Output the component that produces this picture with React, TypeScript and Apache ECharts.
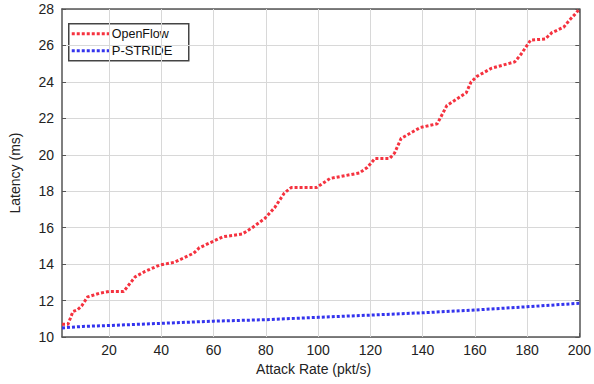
import React, { useEffect, useRef } from "react";
import * as echarts from "echarts";

// Latency vs attack rate, breakpoints of each measured curve [rate, latency]
const openFlowData: [number, number][] = [
  [2, 10.7], [4.3, 10.7], [6.2, 11.4], [8, 11.5], [9.5, 11.7], [11.8, 12.2], [16.3, 12.4],
  [20, 12.5], [25.6, 12.5], [30, 13.3], [33.8, 13.6], [39.4, 13.95], [45, 14.1],
  [52.4, 14.6], [54.6, 14.9], [63.6, 15.5], [71, 15.65], [74.8, 16.0], [79.6, 16.5],
  [83.4, 17.1], [87.1, 17.9], [89.7, 18.2], [99.4, 18.2], [102, 18.45], [104.6, 18.7],
  [115.8, 19.0], [118.8, 19.3], [121.8, 19.8], [127.4, 19.8], [129.3, 20.1],
  [131.8, 20.9], [139.2, 21.5], [145.6, 21.7], [149.3, 22.7], [156.7, 23.4],
  [158.6, 24.0], [160.8, 24.3], [166.4, 24.75], [175.3, 25.1], [177.6, 25.5],
  [181.4, 26.3], [186.9, 26.35], [189.5, 26.7], [194, 27.0], [196.3, 27.4],
  [198.9, 27.8], [200, 28.0],
];
const pStrideData: [number, number][] = [
  [2, 10.5], [10, 10.58], [20, 10.63], [40, 10.75], [60, 10.87], [80, 10.95],
  [100, 11.08], [120, 11.2], [140, 11.33], [160, 11.48], [180, 11.66], [200, 11.85],
];
const seriesNames = ["OpenFlow", "P-STRIDE"];
const xTicks = [20, 40, 60, 80, 100, 120, 140, 160, 180, 200];

const RED = "#f5323f";
const BLUE = "#3434ee";
const FRAME = "#555";
const GRID = "#d8d8d8";
const FONT = "Liberation Sans, Arial, sans-serif";

export default function App() {
  const ref = useRef<HTMLDivElement>(null);

  useEffect(() => {
    if (!ref.current) return;
    const chart = echarts.init(ref.current, undefined, { renderer: "svg" });

    // rate axis starts at 2, so ticks and labels are pinned to the 20-step values
    const baseX = {
      type: "value" as const,
      min: 2,
      max: 200,
      axisLine: { show: true, onZero: false, lineStyle: { color: FRAME, width: 1.5 } },
      axisTick: {
        show: true,
        inside: true,
        length: 4,
        customValues: xTicks,
        lineStyle: { color: FRAME },
      },
      splitLine: { show: false },
    };
    const baseY = {
      type: "value" as const,
      min: 10,
      max: 28,
      interval: 2,
      axisLine: { show: true, onZero: false, lineStyle: { color: FRAME, width: 1.5 } },
      axisTick: { show: true, inside: true, length: 4, lineStyle: { color: FRAME } },
    };

    const dotted = (color: string) => ({
      color,
      width: 3,
      type: [3, 2] as number[],
      cap: "butt" as const,
    });

    chart.setOption({
      animation: false,
      backgroundColor: "#fff",
      grid: { left: 52, top: 9, right: 11, bottom: 47, containLabel: false },
      xAxis: [
        {
          ...baseX,
          position: "bottom",
          name: "Attack Rate (pkt/s)",
          nameLocation: "middle",
          nameGap: 23,
          nameTextStyle: { color: "#222", fontSize: 14, fontFamily: FONT, padding: [0, 14, 0, 0] },
          axisLabel: {
            customValues: xTicks,
            color: "#222",
            fontSize: 14,
            fontFamily: FONT,
            margin: 6,
          },
        },
        {
          ...baseX,
          position: "top",
          axisLabel: { show: false },
        },
      ],
      yAxis: [
        {
          ...baseY,
          position: "left",
          name: "Latency (ms)",
          nameLocation: "middle",
          nameGap: 40,
          nameTextStyle: { color: "#222", fontSize: 14, fontFamily: FONT },
          axisLabel: { color: "#222", fontSize: 14, fontFamily: FONT, margin: 8 },
          splitLine: { show: true, lineStyle: { color: GRID, width: 1 } },
        },
        {
          ...baseY,
          position: "right",
          axisLabel: { show: false },
          splitLine: { show: false },
        },
      ],
      series: [
        {
          name: seriesNames[0],
          type: "line",
          data: openFlowData,
          showSymbol: false,
          lineStyle: dotted(RED),
          z: 3,
          // vertical grid lines at the labelled rates
          markLine: {
            silent: true,
            symbol: "none",
            label: { show: false },
            lineStyle: { color: GRID, width: 1, type: "solid" },
            z: 1,
            data: xTicks.filter((v) => v < 200).map((v) => ({ xAxis: v })),
          },
        },
        {
          name: seriesNames[1],
          type: "line",
          data: pStrideData,
          showSymbol: false,
          lineStyle: dotted(BLUE),
          z: 3,
        },
      ],
      graphic: [
        {
          type: "group",
          left: 68,
          top: 23,
          z: 10,
          children: [
            {
              type: "rect",
              shape: { x: 0, y: 0, width: 120, height: 37 },
              style: { fill: "#fff", stroke: "#444", lineWidth: 1.5 },
            },
            {
              type: "line",
              shape: { x1: 3, y1: 10, x2: 42, y2: 10 },
              style: { stroke: RED, lineWidth: 3, lineDash: [3, 2] },
            },
            {
              type: "text",
              x: 43,
              y: 10,
              style: {
                text: seriesNames[0],
                fill: "#111",
                font: `12.5px ${FONT}`,
                textVerticalAlign: "middle",
              },
            },
            {
              type: "line",
              shape: { x1: 3, y1: 27, x2: 42, y2: 27 },
              style: { stroke: BLUE, lineWidth: 3, lineDash: [3, 2] },
            },
            {
              type: "text",
              x: 43,
              y: 27,
              style: {
                text: seriesNames[1],
                fill: "#111",
                font: `13px ${FONT}`,
                textVerticalAlign: "middle",
              },
            },
          ],
        },
      ],
    });

    return () => chart.dispose();
  }, []);

  return <div ref={ref} style={{ width: 594, height: 384, position: "absolute", left: 0, top: 0 }} />;
}
